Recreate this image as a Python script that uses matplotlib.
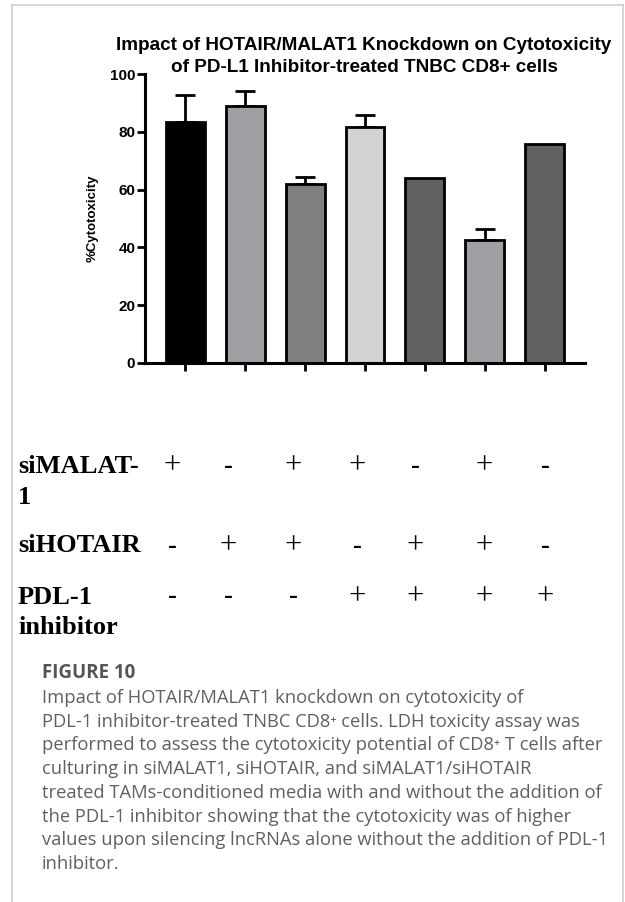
import matplotlib
matplotlib.use("Agg")
import matplotlib.pyplot as plt
from matplotlib.lines import Line2D

# ---- data ----
groups = ["G1", "G2", "G3", "G4", "G5", "G6", "G7"]
cytotoxicity = [83.5, 88.9, 62.0, 81.8, 63.9, 42.6, 75.8]
errors = [9.2, 5.2, 2.4, 3.9, 0.0, 3.9, 0.0]
bar_colors = ["#000000", "#a0a0a4", "#808080", "#d3d3d3", "#606060", "#a0a0a4", "#606060"]
y_ticks = [0, 20, 40, 60, 80, 100]

simalat1 = ["+", "-", "+", "+", "-", "+", "-"]
sihotair = ["-", "+", "+", "-", "+", "+", "-"]
pdl1 = ["-", "-", "-", "+", "+", "+", "+"]

title_lines = ["Impact of HOTAIR/MALAT1 Knockdown on Cytotoxicity",
               "of PD-L1 Inhibitor-treated TNBC CD8+ cells"]
y_label = "%Cytotoxicity"

caption_head = "FIGURE 10"
caption_lines = [
    "Impact of HOTAIR/MALAT1 knockdown on cytotoxicity of",
    "PDL-1 inhibitor-treated TNBC CD8\u207a cells. LDH toxicity assay was",
    "performed to assess the cytotoxicity potential of CD8\u207a T cells after",
    "culturing in siMALAT1, siHOTAIR, and siMALAT1/siHOTAIR",
    "treated TAMs-conditioned media with and without the addition of",
    "the PDL-1 inhibitor showing that the cytotoxicity was of higher",
    "values upon silencing lncRNAs alone without the addition of PDL-1",
    "inhibitor.",
]

W, H = 625, 902
fig = plt.figure(figsize=(W / 100, H / 100), dpi=100)

def fx(px):
    return px / W

def fy(py):
    return 1 - py / H

# outer frame
frame_kw = dict(color="#cfcfcf", lw=1.2, transform=fig.transFigure)
fig.add_artist(Line2D([fx(12), fx(12)], [fy(5), fy(902)], **frame_kw))
fig.add_artist(Line2D([fx(12), fx(623)], [fy(5), fy(5)], **frame_kw))
fig.add_artist(Line2D([fx(623), fx(623)], [fy(5), fy(902)], **frame_kw))

sans = ["Liberation Sans", "DejaVu Sans"]

# ---- axes ----
ax = fig.add_axes([fx(145), fy(363), fx(585) - fx(145), fy(74) - fy(363)])
x = list(range(len(groups)))
ax.bar(x, cytotoxicity, width=0.65, color=bar_colors, edgecolor="black", linewidth=2, zorder=2)
for xi, v, e in zip(x, cytotoxicity, errors):
    if e > 0:
        ax.errorbar([xi], [v], yerr=[[0], [e]], fmt="none", ecolor="black",
                    elinewidth=2, capsize=7.5, capthick=2, zorder=1)
ax.set_xlim(-0.667, 6.667)
ax.set_ylim(0, 100)
ax.set_yticks(y_ticks)
ax.set_yticklabels([str(t) for t in y_ticks], fontsize=11, fontweight="bold", family=sans)
ax.set_xticks(x)
ax.set_xticklabels([])
ax.tick_params(axis="both", direction="out", length=6, width=2, pad=1)
for s in ["top", "right"]:
    ax.spines[s].set_visible(False)
for s in ["left", "bottom"]:
    ax.spines[s].set_linewidth(2.2)
ax.set_ylabel(y_label, fontsize=9.5, fontweight="bold", family=sans)
ax.yaxis.set_label_coords(-0.105, 0.5)

# title
for yy, line in zip([46, 68], title_lines):
    fig.text(fx(364), fy(yy), line, ha="center", va="center",
             fontsize=13.6, fontweight="bold", family=sans)

# ---- treatment table ----
col_x = [172, 228, 293, 357, 415, 484, 545]
row_y = [466, 546, 597]
serif = ["Liberation Serif", "DejaVu Serif"]
labels = [("siMALAT-", 467), ("1", 497), ("siHOTAIR", 545), ("PDL-1", 597), ("inhibitor", 628)]
for txt, yy in labels:
    fig.text(fx(18), fy(yy), txt, ha="left", va="center", fontsize=19,
             fontweight="bold", family=serif)
for ry, signs in zip(row_y, [simalat1, sihotair, pdl1]):
    for cx, s in zip(col_x, signs):
        if s == "+":
            fig.text(fx(cx), fy(ry), s, ha="center", va="center", fontsize=22,
                     fontweight="normal", family=serif)
        else:
            fig.text(fx(cx), fy(ry), s, ha="center", va="center", fontsize=19,
                     fontweight="bold", family=serif)

# ---- caption ----
cap_font = ["Open Sans", "DejaVu Sans"]
fig.text(fx(42), fy(673), caption_head, ha="left", va="center", fontsize=13.5,
         fontweight="bold", color="#555555", family=cap_font)
for i, line in enumerate(caption_lines):
    fig.text(fx(42), fy(698 + i * 23.7), line, ha="left", va="center", fontsize=13.2,
             color="#606060", family=cap_font)

fig.savefig("out.png", dpi=100)
